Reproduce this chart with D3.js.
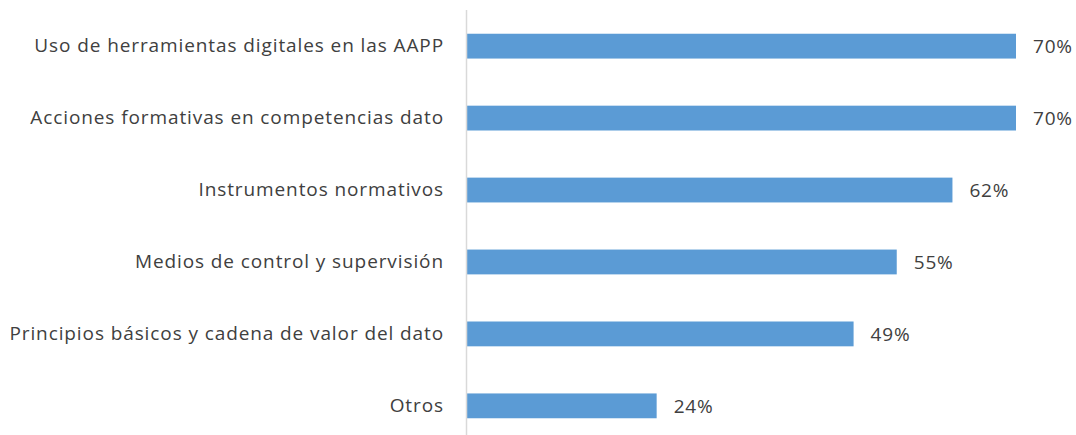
<!DOCTYPE html>
<html>
<head>
<meta charset="utf-8">
<script src="https://cdn.jsdelivr.net/npm/d3@7"></script>
<style>
  body { margin: 0; background: #fff; }
  svg { display: block; }
  text { font-family: "Open Sans", sans-serif; fill: #404040; }
</style>
</head>
<body>
<svg id="chart" width="1076" height="435"></svg>
<script>
// categories, top to bottom
var categories = [
    "Uso de herramientas digitales en las AAPP",
    "Acciones formativas en competencias dato",
    "Instrumentos normativos",
    "Medios de control y supervisión",
    "Principios básicos y cadena de valor del dato",
    "Otros"
];
// share of answers (%)
var values = [70.1, 70.1, 62.0, 54.9, 49.4, 24.3];

var svg = d3.select("#chart"),
    margin = {top: 10, right: 60, bottom: 0, left: 466},
    height = 432;

var g = svg.append("g").attr("transform", "translate(" + margin.left + "," + margin.top + ")");

var x = d3.scaleLinear().domain([0, 70.1]).range([0, 550]);
var y = d3.scaleBand().domain(categories).range([0, height]).paddingInner(0.655).paddingOuter(0.33);

var data = categories.map(function (c, i) {
    return {name: c, value: values[i]};
});

g.selectAll(".bar")
    .data(data)
    .enter().append("rect")
    .attr("class", "bar")
    .attr("x", x(0) + 1)
    .attr("y", function (d) { return y(d.name); })
    .attr("width", function (d) { return x(d.value) - 1; })
    .attr("height", y.bandwidth())
    .attr("fill", "#5b9bd5");

// category axis: only the labels, the line is drawn separately
var axis = g.append("g")
    .attr("class", "axis axis--y")
    .call(d3.axisLeft(y).tickSize(0).tickPadding(22));
axis.select(".domain").remove();
axis.selectAll("text")
    .style("font-size", "19px")
    .style("letter-spacing", "0.9px")
    .attr("fill", "#404040")
    .style("font-family", "\"Open Sans\", sans-serif");

g.append("line")
    .attr("x1", 0.5).attr("x2", 0.5)
    .attr("y1", 0).attr("y2", 425)
    .attr("stroke", "#d9d9d9")
    .attr("stroke-width", 1.5);

g.selectAll(".label")
    .data(data)
    .enter().append("text")
    .attr("class", "label")
    .attr("x", function (d) { return x(d.value) + 17; })
    .attr("y", function (d) { return y(d.name) + y.bandwidth() / 2; })
    .attr("dy", "0.35em")
    .style("font-size", "19px")
    .style("letter-spacing", "0.8px")
    .text(function (d) { return Math.round(d.value) + "%"; });
</script>
</body>
</html>
